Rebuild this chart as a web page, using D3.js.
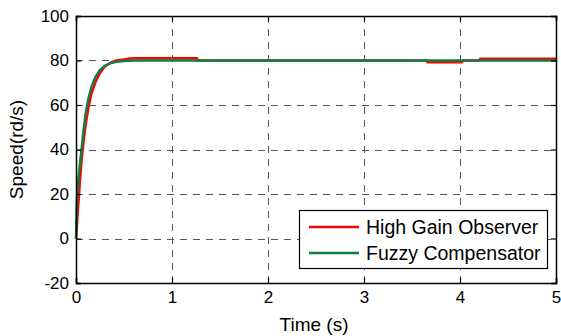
<!DOCTYPE html>
<html>
<head>
<meta charset="utf-8">
<script src="https://cdn.jsdelivr.net/npm/d3@7"></script>
<style>
  html, body { margin: 0; padding: 0; background: #fff; }
  svg { display: block; font-family: "Liberation Sans", Arial, sans-serif; }
</style>
</head>
<body>
<svg id="chart" width="561" height="336"></svg>
<script>
// Speed response of the two controllers (time in s, speed in rd/s)
const timeHGO = [0, 0.01, 0.02, 0.03, 0.045, 0.06, 0.08, 0.1, 0.13, 0.16, 0.2, 0.25, 0.3, 0.36, 0.42, 0.5, 0.56, 0.62, 1.26, 1.27, 3.65, 3.66, 4.02, 4.03, 4.2, 4.21, 5];
const speedHGO = [0, 6, 13, 19, 28, 36, 44, 51, 59, 65, 70, 74.5, 77.3, 79, 80, 80.5, 80.9, 81, 81, 80, 80, 79.2, 79.2, 80, 80, 80.8, 80.8];

const timeFC = [0, 0.005, 0.01, 0.02, 0.03, 0.045, 0.06, 0.08, 0.1, 0.13, 0.16, 0.2, 0.25, 0.3, 0.36, 0.42, 0.5, 0.6, 1, 2, 3, 4, 5];
const speedFC = [0, 9, 18, 24, 29, 35, 41, 49, 56, 63, 68, 72.4, 75.8, 77.6, 78.8, 79.4, 79.8, 80, 80, 80, 80, 80, 80];

const seriesNames = ["High Gain Observer", "Fuzzy Compensator"];
const seriesColors = ["#ff0000", "#0b8040"];

const xTicks = [0, 1, 2, 3, 4, 5];
const yTicks = [-20, 0, 20, 40, 60, 80, 100];

const svg = d3.select("#chart");
const m = { left: 76, right: 556, top: 16, bottom: 283 };

const x = d3.scaleLinear().domain([0, 5]).range([m.left, m.right]);
const y = d3.scaleLinear().domain([-20, 100]).range([m.bottom, m.top]);

// tick labels use a plain hyphen for negatives
const fmt = d => String(d);

// dashed grid
const grid = svg.append("g").attr("stroke", "#555").attr("stroke-width", 1)
  .attr("stroke-dasharray", "7,6").attr("shape-rendering", "crispEdges");
grid.selectAll("line.v").data(xTicks.slice(1, -1)).join("line")
  .attr("x1", d => Math.round(x(d)) + 0.5).attr("x2", d => Math.round(x(d)) + 0.5)
  .attr("y1", m.top).attr("y2", m.bottom);
grid.selectAll("line.h").data(yTicks.slice(1, -1)).join("line")
  .attr("y1", d => Math.round(y(d)) + 0.5).attr("y2", d => Math.round(y(d)) + 0.5)
  .attr("x1", m.left).attr("x2", m.right);

// curves
const line = d3.line().x(d => x(d[0])).y(d => y(d[1]));
const curves = [d3.zip(timeHGO, speedHGO), d3.zip(timeFC, speedFC)];
svg.append("g").selectAll("path").data(curves).join("path")
  .attr("d", line)
  .attr("fill", "none")
  .attr("stroke", (d, i) => seriesColors[i])
  .attr("stroke-width", 2.5)
  .attr("stroke-linejoin", "round");

// axes: MATLAB-style box with inward ticks
const tickLen = 5;
const axB = svg.append("g").attr("transform", `translate(0,${m.bottom})`)
  .call(d3.axisBottom(x).tickValues(xTicks).tickFormat(fmt).tickSize(-tickLen).tickPadding(8));
const axT = svg.append("g").attr("transform", `translate(0,${m.top})`)
  .call(d3.axisTop(x).tickValues(xTicks).tickFormat("").tickSize(-tickLen));
const axL = svg.append("g").attr("transform", `translate(${m.left},0)`)
  .call(d3.axisLeft(y).tickValues(yTicks).tickFormat(fmt).tickSize(-tickLen).tickPadding(7));
const axR = svg.append("g").attr("transform", `translate(${m.right},0)`)
  .call(d3.axisRight(y).tickValues(yTicks).tickFormat("").tickSize(-tickLen));
[axB, axT, axL, axR].forEach(a => {
  a.select(".domain").attr("stroke", "#000").attr("stroke-width", 1.5);
  a.selectAll(".tick line").attr("stroke", "#000").attr("stroke-width", 1.2);
  a.selectAll(".tick text").attr("fill", "#000").attr("font-size", 17)
    .attr("font-family", "Liberation Sans, Arial, sans-serif");
});
axB.selectAll(".tick text").attr("dy", "0.71em");

// axis titles
svg.append("text").attr("x", (m.left + m.right) / 2 - 2).attr("y", 331)
  .attr("text-anchor", "middle").attr("font-size", 19).text("Time (s)");
svg.append("text").attr("transform", `translate(23,${(m.top + m.bottom) / 2}) rotate(-90)`)
  .attr("text-anchor", "middle").attr("font-size", 19).text("Speed(rd/s)");

// legend
const lg = svg.append("g");
lg.append("rect").attr("x", 299.5).attr("y", 210.5).attr("width", 248).attr("height", 58)
  .attr("fill", "#fff").attr("stroke", "#000").attr("stroke-width", 1.2);
seriesNames.forEach((name, i) => {
  const yy = 227 + i * 26;
  lg.append("line").attr("x1", 309).attr("x2", 359).attr("y1", yy).attr("y2", yy)
    .attr("stroke", seriesColors[i]).attr("stroke-width", 2.5);
  lg.append("text").attr("x", 366).attr("y", yy).attr("dy", "0.35em")
    .attr("font-size", 19.5).text(name);
});
</script>
</body>
</html>
